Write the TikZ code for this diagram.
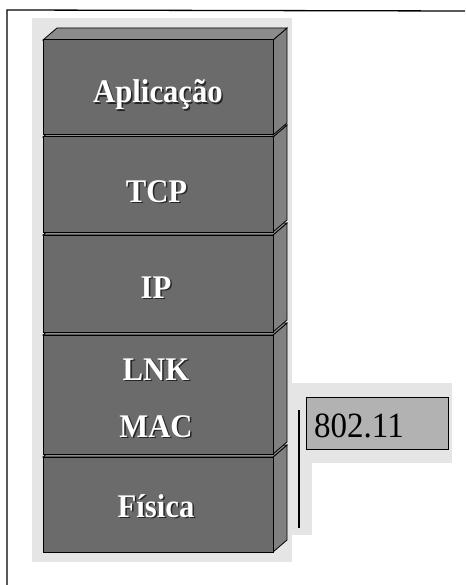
\documentclass[tikz,border=0pt]{standalone}
\usepackage{fontspec}
\setmainfont{Liberation Serif}
\newfontfamily\condserif[FakeStretch=0.93]{Liberation Serif}
\begin{document}
\begin{tikzpicture}[x=1pt,y=-1pt,
  blockfront/.style={fill=black!58,draw=black,line width=1pt},
  blockside/.style={fill=black!50,draw=black,line width=0.8pt},
  blocktop/.style={fill=black!45,draw=black,line width=0.8pt},
  stipple/.style={fill=black!10,draw=none},
  lab/.style={text=white,font=\condserif\fontsize{33}{34}\selectfont\bfseries,inner sep=0pt,anchor=base},
  labshadow/.style={text=black!85,font=\condserif\fontsize{33}{34}\selectfont\bfseries,inner sep=0pt,anchor=base},
  frameline/.style={line width=1.3pt,black}]
\useasboundingbox (0,0) rectangle (465,585);
\fill[white] (0,0) rectangle (465,585);
% frame
\draw[frameline] (7,585) -- (7,10) -- (465,11);
% stipple backgrounds
\fill[stipple] (32,18) rectangle (292,562);
\fill[stipple] (292,383) rectangle (452,463);
\fill[stipple] (290,463) rectangle (312,535);
% blocks, bottom to top
\foreach \t/\b in {457/552,335/454,235/332,137/232,40/135}{
  \filldraw[blockside] (273,\t) -- (287,\t-12) -- (287,\b-12) -- (273,\b) -- cycle;
  \filldraw[blocktop] (43,\t) -- (57,\t-12) -- (287,\t-12) -- (273,\t) -- cycle;
  \filldraw[blockfront] (43,\t) rectangle (273,\b);
}
% labels
\node[labshadow] (s1) at (159.5,104.5) {Aplicação};
\node[lab] (l1) at (158,103) {Aplicação};
\node[labshadow] (s2) at (158,203.5) {TCP};
\node[lab] (l2) at (156.5,202) {TCP};
\node[labshadow] (s3) at (157.5,299.5) {IP};
\node[lab] (l3) at (156,298) {IP};
\node[labshadow] (s4) at (157.5,381.5) {LNK};
\node[lab] (l4) at (156,380) {LNK};
\node[labshadow] (s5) at (157.5,438.5) {MAC};
\node[lab] (l5) at (156,437) {MAC};
\node[labshadow] (s6) at (157.5,518.5) {Física};
\node[lab] (l6) at (156,517) {Física};
% bracket line
\coordinate (bt) at (299,410);
\coordinate (bb) at (299,528);
\draw[line width=1.2pt] (bt) -- (bb);
% 802.11 box
\node[draw=black,line width=1.2pt,fill=black!30,minimum width=142pt,minimum height=52pt,
  inner sep=0pt,anchor=north west] (std) at (306,397) {};
\node[font=\condserif\fontsize{35.5}{36}\selectfont,inner sep=0pt,anchor=base] (stdtext) at (359,437) {802.11};
\end{tikzpicture}
\end{document}
